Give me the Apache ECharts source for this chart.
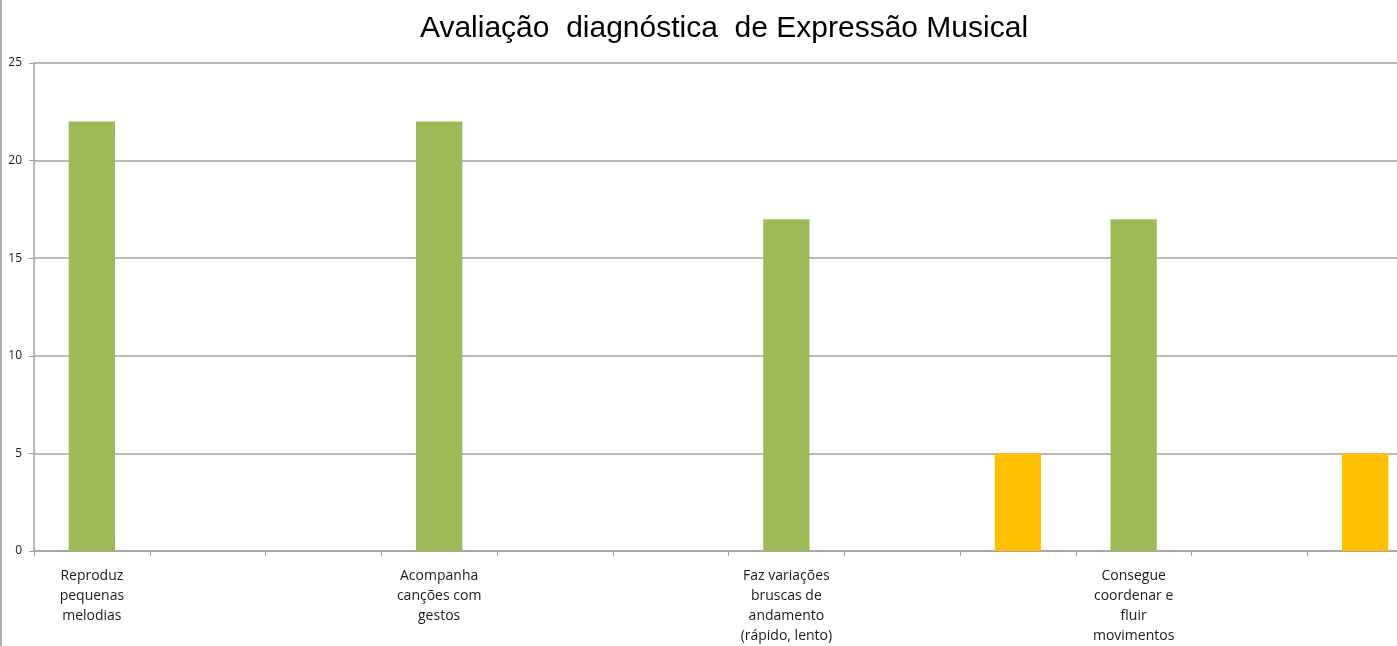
<!DOCTYPE html>
<html>
<head>
<meta charset="utf-8">
<script src="https://cdn.jsdelivr.net/npm/echarts@6/dist/echarts.min.js"></script>
<style>
  html, body { margin: 0; padding: 0; background: #fff; }
  #chart { width: 1397px; height: 646px; }
</style>
</head>
<body>
<div id="chart"></div>
<script>
// Category slots along the x axis (only every third carries a label)
const categories = [
  'Reproduz\npequenas\nmelodias', '', '',
  'Acompanha\ncanções com\ngestos', '', '',
  'Faz variações\nbruscas de\nandamento\n(rápido, lento)', '', '',
  'Consegue\ncoordenar e\nfluir\nmovimentos', '', ''
];
// Counts per slot for each series
const greenValues  = [22, null, null, 22, null, null, 17, null, null, 17, null, null];
const orangeValues = [null, null, null, null, null, null, null, null, 5, null, null, 5];
const yTicks = { min: 0, max: 25, interval: 5 };

const chart = echarts.init(document.getElementById('chart'));
chart.setOption({
  animation: false,
  backgroundColor: '#ffffff',
  title: {
    text: 'Avaliação  diagnóstica  de Expressão Musical',
    left: 719,
    top: 9,
    textAlign: 'center',
    textStyle: { fontFamily: 'Liberation Sans', fontSize: 30, fontWeight: 'normal', color: '#000' }
  },
  // the plot runs past the right edge of the page; the last slot is clipped
  grid: { left: 34, top: 63, width: 1389, height: 488, containLabel: false, outerBoundsMode: 'none' },
  xAxis: {
    type: 'category',
    data: categories,
    boundaryGap: true,
    axisLine: { lineStyle: { color: '#a0a0a0', width: 1.5 } },
    axisTick: { show: true, length: 5, interval: 0, lineStyle: { color: '#a0a0a0' } },
    axisLabel: {
      interval: 0,
      margin: 15,
      fontFamily: 'Open Sans',
      fontSize: 14,
      lineHeight: 20,
      color: '#1a1a1a',
      align: 'center'
    }
  },
  yAxis: {
    type: 'value',
    min: yTicks.min,
    max: yTicks.max,
    interval: yTicks.interval,
    axisLine: { show: true, lineStyle: { color: '#a0a0a0', width: 1.5 } },
    axisTick: { show: true, length: 5, lineStyle: { color: '#a0a0a0' } },
    axisLabel: { fontFamily: 'Open Sans', fontSize: 12, color: '#1a1a1a', margin: 12 },
    splitLine: { show: true, lineStyle: { color: '#a0a0a0', width: 1.5 } }
  },
  series: [
    {
      type: 'bar',
      data: greenValues,
      barWidth: '40%',
      barGap: '-100%',
      itemStyle: { color: '#9BBB59' }
    },
    {
      type: 'bar',
      data: orangeValues,
      barWidth: '40%',
      barGap: '-100%',
      itemStyle: { color: '#FFC000' }
    }
  ],
  graphic: [
    { type: 'rect', left: 0, top: 0, shape: { width: 2, height: 646 }, style: { fill: '#b0b0b0' } }
  ]
});
</script>
</body>
</html>
